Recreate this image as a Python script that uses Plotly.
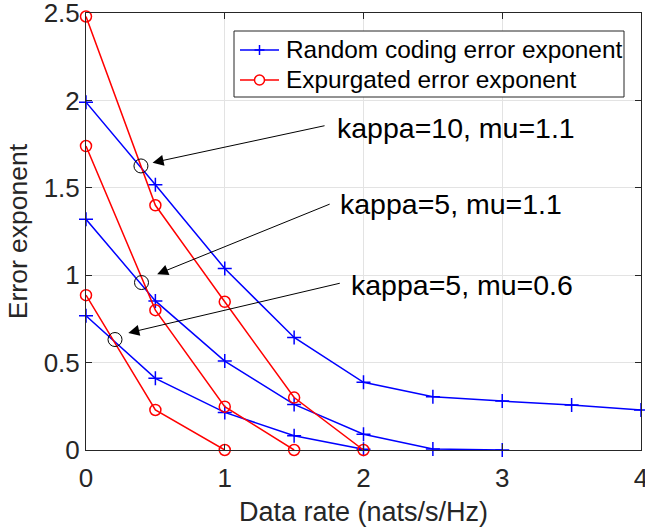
import plotly.graph_objects as go

# Data
rate_rc1 = [0, 0.5, 1, 1.5, 2, 2.5, 3, 3.5, 4]
rc1 = [1.99, 1.518, 1.038, 0.644, 0.387, 0.305, 0.28, 0.257, 0.229]
rate_rc2 = [0, 0.5, 1, 1.5, 2, 2.5, 3]
rc2 = [1.32, 0.853, 0.509, 0.261, 0.09, 0.006, 0.0]
rate_rc3 = [0, 0.5, 1, 1.5, 2]
rc3 = [0.768, 0.41, 0.215, 0.082, 0.004]

rate_ex1 = [0, 0.5, 1, 1.5, 2]
ex1 = [2.48, 1.40, 0.848, 0.30, 0.0]
rate_ex2 = [0, 0.5, 1, 1.5]
ex2 = [1.739, 0.80, 0.248, 0.0]
rate_ex3 = [0, 0.5, 1]
ex3 = [0.886, 0.229, 0.0]

cross_x = [0.396, 0.40, 0.209]
cross_y = [1.625, 0.958, 0.632]

legend_names = ["Random coding error exponent", "Expurgated error exponent"]

labels = ["kappa=10, mu=1.1", "kappa=5, mu=1.1", "kappa=5, mu=0.6"]
label_x = [1.791, 1.813, 1.899]
label_y = [1.84, 1.41, 0.945]
arrow_tail_x = [1.73, 1.767, 1.84]
arrow_tail_y = [1.857, 1.41, 0.956]
arrow_head_x = [0.48, 0.513, 0.305]
arrow_head_y = [1.644, 1.006, 0.67]

FONT = "Liberation Sans, Arial, sans-serif"
TXT = "#262626"
BLUE = "rgb(0,0,255)"
RED = "rgb(255,0,0)"

W, H = 645, 529
ML, MR, MT, MB = 86, 4, 13, 79
PW, PH = W - ML - MR, H - MT - MB


def px(xp):
    return (xp - ML) / PW


def py(yp):
    return (H - MB - yp) / PH


fig = go.Figure()

blue = dict(color=BLUE, width=1.5)
red = dict(color=RED, width=1.5)
bm = dict(symbol="cross-thin", size=10, line=dict(color=BLUE, width=1.5))
rm = dict(symbol="circle-open", size=11, color=RED, line=dict(width=1.5))

for xs, ys in [(rate_rc1, rc1), (rate_rc2, rc2), (rate_rc3, rc3)]:
    fig.add_trace(go.Scatter(x=xs, y=ys, mode="lines+markers", line=blue, marker=bm,
                             name=legend_names[0], showlegend=False, cliponaxis=False))
for xs, ys in [(rate_ex1, ex1), (rate_ex2, ex2), (rate_ex3, ex3)]:
    fig.add_trace(go.Scatter(x=xs, y=ys, mode="lines+markers", line=red, marker=rm,
                             name=legend_names[1], showlegend=False, cliponaxis=False))

fig.add_trace(go.Scatter(x=cross_x, y=cross_y, mode="markers", showlegend=False,
                         marker=dict(symbol="circle-open", size=14, color="black",
                                     line=dict(width=1)), cliponaxis=False))

for i in range(3):
    fig.add_annotation(x=arrow_head_x[i], y=arrow_head_y[i], ax=arrow_tail_x[i], ay=arrow_tail_y[i],
                       xref="x", yref="y", axref="x", ayref="y", text="",
                       showarrow=True, arrowhead=2, arrowsize=2.2, arrowwidth=1,
                       arrowcolor="black", standoff=0, startstandoff=0)
    fig.add_annotation(x=label_x[i], y=label_y[i], xref="x", yref="y", text=labels[i],
                       showarrow=False, xanchor="left", yanchor="middle",
                       font=dict(family=FONT, size=28.5, color="black"))

# MATLAB-style legend box drawn in paper space
shapes = [dict(type="rect", xref="paper", yref="paper", x0=px(234), x1=px(624), y0=py(31), y1=py(97),
               line=dict(color=TXT, width=1), fillcolor="white", layer="above")]
rows = [(50, BLUE), (80, RED)]
for (yr, col), name in zip(rows, legend_names):
    shapes.append(dict(type="line", xref="paper", yref="paper", x0=px(240), x1=px(279),
                       y0=py(yr), y1=py(yr), line=dict(color=col, width=1.5), layer="above"))
    fig.add_annotation(x=px(284), y=py(yr), xref="paper", yref="paper", text=name,
                       showarrow=False, xanchor="left", yanchor="middle",
                       font=dict(family=FONT, size=24.4, color="black"))
# legend symbols
cx = px(259.5)
shapes.append(dict(type="line", xref="paper", yref="paper", xsizemode="pixel", ysizemode="pixel",
                   xanchor=cx, yanchor=py(50), x0=-5, x1=5, y0=0, y1=0,
                   line=dict(color=BLUE, width=1.5), layer="above"))
shapes.append(dict(type="line", xref="paper", yref="paper", xsizemode="pixel", ysizemode="pixel",
                   xanchor=cx, yanchor=py(50), x0=0, x1=0, y0=-5, y1=5,
                   line=dict(color=BLUE, width=1.5), layer="above"))
shapes.append(dict(type="circle", xref="paper", yref="paper", xsizemode="pixel", ysizemode="pixel",
                   xanchor=cx, yanchor=py(80), x0=-5, x1=5, y0=-5, y1=5,
                   line=dict(color=RED, width=1.5), fillcolor="white", layer="above"))

fig.update_layout(
    width=W, height=H,
    margin=dict(l=ML, r=MR, t=MT, b=MB, autoexpand=False),
    paper_bgcolor="white", plot_bgcolor="white",
    font=dict(family=FONT, color=TXT),
    showlegend=False,
    shapes=shapes,
)
axis_common = dict(showline=True, linecolor=TXT, linewidth=1, mirror="allticks",
                   ticks="inside", ticklen=6, tickcolor=TXT,
                   showgrid=True, gridcolor="#e3e3e3", gridwidth=1, zeroline=False,
                   ticklabeloverflow="allow", automargin=False,
                   tickfont=dict(family=FONT, size=26, color=TXT))
fig.update_xaxes(range=[0, 4], tickvals=[0, 1, 2, 3, 4], ticklabelstandoff=5,
                 title=dict(text="Data rate (nats/s/Hz)", font=dict(family=FONT, size=27, color=TXT), standoff=9),
                 **axis_common)
fig.update_yaxes(range=[0, 2.5], tickvals=[0, 0.5, 1, 1.5, 2, 2.5],
                 title=dict(text="Error exponent", font=dict(family=FONT, size=26.5, color=TXT), standoff=8),
                 **axis_common)

fig.write_html("out.html")
